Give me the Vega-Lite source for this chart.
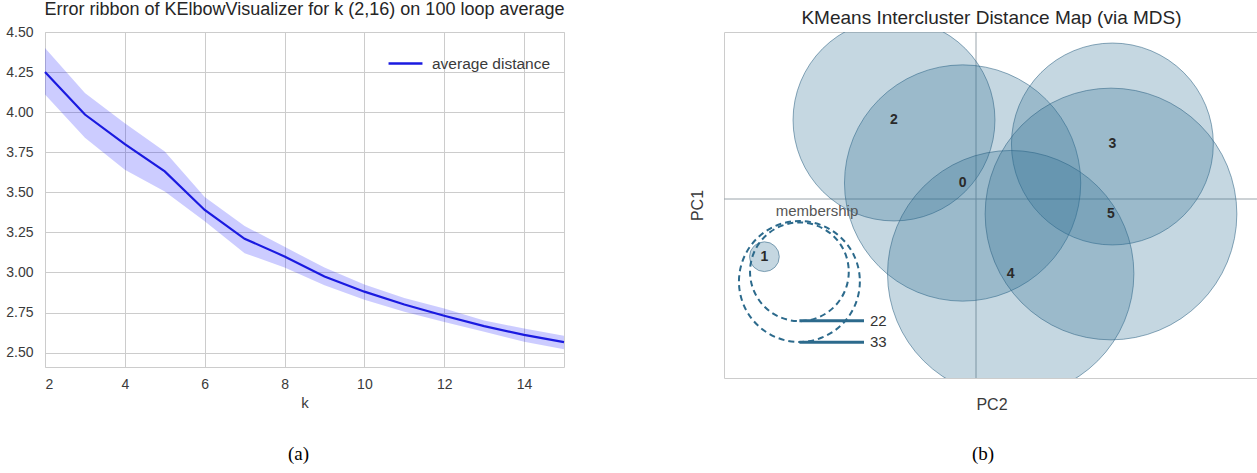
{
  "$schema": "https://vega.github.io/schema/vega-lite/v6.json",
  "padding": {"left": 5, "top": 0, "right": 0, "bottom": 0},
  "background": "white",
  "config": {
    "font": "Liberation Sans",
    "view": {"stroke": "#cccccc", "strokeWidth": 1},
    "axis": {"labelFont": "Liberation Sans", "titleFont": "Liberation Sans", "labelColor": "#3a3a3a", "titleColor": "#3a3a3a", "titleFontWeight": "normal", "labelFontSize": 14, "titleFontSize": 15},
    "title": {"font": "Liberation Sans", "fontWeight": "normal", "fontSize": 18, "color": "#262626"}
  },
  "datasets": {
    "elbow": [
      {"k": 2, "mean": 4.25, "lo": 4.11, "hi": 4.40},
      {"k": 3, "mean": 3.985, "lo": 3.84, "hi": 4.12},
      {"k": 4, "mean": 3.80, "lo": 3.64, "hi": 3.93},
      {"k": 5, "mean": 3.63, "lo": 3.505, "hi": 3.755},
      {"k": 6, "mean": 3.39, "lo": 3.32, "hi": 3.47},
      {"k": 7, "mean": 3.21, "lo": 3.12, "hi": 3.29},
      {"k": 8, "mean": 3.10, "lo": 3.03, "hi": 3.16},
      {"k": 9, "mean": 2.975, "lo": 2.92, "hi": 3.03},
      {"k": 10, "mean": 2.88, "lo": 2.83, "hi": 2.925},
      {"k": 11, "mean": 2.80, "lo": 2.755, "hi": 2.84},
      {"k": 12, "mean": 2.73, "lo": 2.69, "hi": 2.775},
      {"k": 13, "mean": 2.665, "lo": 2.63, "hi": 2.70},
      {"k": 14, "mean": 2.61, "lo": 2.567, "hi": 2.65},
      {"k": 15, "mean": 2.565, "lo": 2.52, "hi": 2.605}
    ],
    "clusters": [
      {"cluster": "0", "pc2": -0.134, "pc1": 0.16, "membership": 126},
      {"cluster": "1", "pc2": -2.116, "pc1": -0.577, "membership": 2},
      {"cluster": "2", "pc2": -0.82, "pc1": 0.79, "membership": 92},
      {"cluster": "3", "pc2": 1.364, "pc1": 0.55, "membership": 92},
      {"cluster": "4", "pc2": 0.347, "pc1": -0.747, "membership": 137},
      {"cluster": "5", "pc2": 1.35, "pc1": -0.15, "membership": 143}
    ],
    "sizelegend": [
      {"label": "22", "membership": 22, "pc2": -1.766, "pc1": -0.728, "lineStart": -1.766, "lineEnd": -1.12, "lineY": -1.217, "labelX": -1.06},
      {"label": "33", "membership": 33, "pc2": -1.766, "pc1": -0.825, "lineStart": -1.766, "lineEnd": -1.12, "lineY": -1.433, "labelX": -1.06}
    ]
  },
  "columns": 2,
  "bounds": "flush",
  "spacing": {"row": 66, "column": 160},
  "resolve": {"scale": {"color": "independent", "size": "independent"}, "legend": {"color": "independent", "size": "independent"}},
  "concat": [
    {
      "width": 519,
      "height": 335,
      "title": {"text": "Error ribbon of KElbowVisualizer for k (2,16) on 100 loop average", "offset": 6, "fontSize": 18},
      "data": {"name": "elbow"},
      "layer": [
        {
          "mark": {"type": "area", "color": "#0000ff", "opacity": 0.2},
          "encoding": {
            "x": {"field": "k", "type": "quantitative", "scale": {"domain": [2, 15], "nice": false, "zero": false},
              "axis": {"title": "k", "values": [2, 4, 6, 8, 10, 12, 14], "grid": true, "gridColor": "#cccccc", "ticks": false, "domain": false, "labelPadding": 10, "titlePadding": 4}},
            "y": {"field": "lo", "type": "quantitative", "scale": {"domain": [2.41, 4.5], "nice": false, "zero": false},
              "axis": {"title": null, "values": [2.5, 2.75, 3.0, 3.25, 3.5, 3.75, 4.0, 4.25, 4.5], "format": ".2f", "grid": true, "gridColor": "#cccccc", "ticks": false, "domain": false, "labelPadding": 12}},
            "y2": {"field": "hi"}
          }
        },
        {
          "mark": {"type": "line", "strokeWidth": 2.2},
          "encoding": {
            "x": {"field": "k", "type": "quantitative"},
            "y": {"field": "mean", "type": "quantitative"},
            "color": {"datum": "average distance", "type": "nominal", "scale": {"range": ["#1a1ae0"]},
              "legend": {"title": null, "orient": "top-right", "offset": 13, "padding": 0, "symbolType": "stroke", "symbolSize": 1150, "symbolStrokeWidth": 2.5, "labelFontSize": 15.5, "labelColor": "#3a3a3a", "labelOffset": 8}}
          }
        }
      ]
    },
    {
      "width": 535,
      "height": 346,
      "title": {"text": "KMeans Intercluster Distance Map (via MDS)", "offset": 4, "fontSize": 19},
      "layer": [
        {
          "data": {"values": [{"origin": 0}]},
          "mark": {"type": "rule", "color": "#9aa4ab", "strokeWidth": 1},
          "encoding": {
            "x": {"field": "origin", "type": "quantitative", "scale": {"domain": [-2.52, 2.83], "nice": false, "zero": false},
              "axis": {"title": "PC2", "titleFontSize": 16, "labels": false, "ticks": false, "domain": false, "grid": false, "titlePadding": 18}}
          }
        },
        {
          "data": {"values": [{"origin": 0}]},
          "mark": {"type": "rule", "color": "#9aa4ab", "strokeWidth": 1},
          "encoding": {
            "y": {"field": "origin", "type": "quantitative", "scale": {"domain": [-1.79, 1.67], "nice": false, "zero": false},
              "axis": {"title": "PC1", "titleFontSize": 16, "labels": false, "ticks": false, "domain": false, "grid": false, "titlePadding": 19}}
          }
        },
        {
          "data": {"name": "clusters"},
          "mark": {"type": "point", "shape": "circle", "filled": true, "fill": "#2e6f94", "fillOpacity": 0.28, "stroke": "#2e6384", "strokeOpacity": 0.55, "strokeWidth": 1, "opacity": 1, "clip": true},
          "encoding": {
            "x": {"field": "pc2", "type": "quantitative"},
            "y": {"field": "pc1", "type": "quantitative"},
            "size": {"field": "membership", "type": "quantitative", "scale": {"type": "linear", "domain": [0, 100], "range": [0, 44300], "zero": true}, "legend": null}
          }
        },
        {
          "data": {"name": "clusters"},
          "mark": {"type": "text", "fontWeight": "bold", "fontSize": 14, "color": "#2a2a2a"},
          "encoding": {
            "x": {"field": "pc2", "type": "quantitative"},
            "y": {"field": "pc1", "type": "quantitative"},
            "text": {"field": "cluster"}
          }
        },
        {
          "data": {"name": "sizelegend"},
          "mark": {"type": "point", "shape": "circle", "filled": false, "stroke": "#2c6a8c", "strokeWidth": 2, "strokeDash": [6, 4], "opacity": 1},
          "encoding": {
            "x": {"field": "pc2", "type": "quantitative"},
            "y": {"field": "pc1", "type": "quantitative"},
            "size": {"field": "membership", "type": "quantitative", "legend": null}
          }
        },
        {
          "data": {"name": "sizelegend"},
          "mark": {"type": "rule", "color": "#2c6a8c", "strokeWidth": 3},
          "encoding": {
            "x": {"field": "lineStart", "type": "quantitative"},
            "x2": {"field": "lineEnd"},
            "y": {"field": "lineY", "type": "quantitative"}
          }
        },
        {
          "data": {"name": "sizelegend"},
          "mark": {"type": "text", "align": "left", "baseline": "middle", "fontSize": 15, "color": "#333333"},
          "encoding": {
            "x": {"field": "labelX", "type": "quantitative"},
            "y": {"field": "lineY", "type": "quantitative"},
            "text": {"field": "label"}
          }
        },
        {
          "data": {"values": [{"t": "membership", "pc2": -1.59, "pc1": -0.123}]},
          "mark": {"type": "text", "fontSize": 15, "color": "#555555"},
          "encoding": {
            "x": {"field": "pc2", "type": "quantitative"},
            "y": {"field": "pc1", "type": "quantitative"},
            "text": {"field": "t"}
          }
        }
      ]
    },
    {
      "width": 507,
      "height": 20,
      "view": {"stroke": null},
      "data": {"values": [{"cap": "(a)"}]},
      "mark": {"type": "text", "font": "Liberation Serif", "fontSize": 19, "color": "black"},
      "encoding": {"text": {"field": "cap"}}
    },
    {
      "width": 518,
      "height": 20,
      "view": {"stroke": null},
      "data": {"values": [{"cap": "(b)"}]},
      "mark": {"type": "text", "font": "Liberation Serif", "fontSize": 19, "color": "black"},
      "encoding": {"text": {"field": "cap"}}
    }
  ]
}
